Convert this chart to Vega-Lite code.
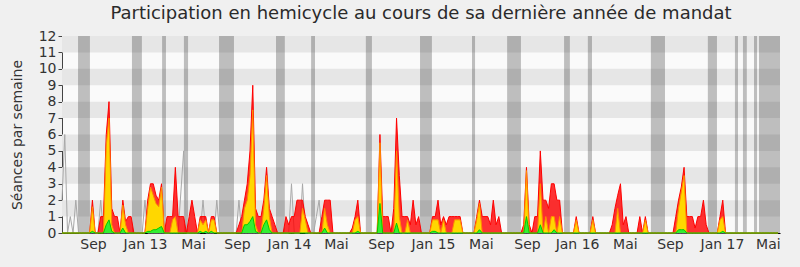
{
"$schema":"https://vega.github.io/schema/vega-lite/v6.json",
"width":718,"height":197,
"autosize":{"type":"none"},
"padding":{"left":62,"top":36,"right":20,"bottom":34},
"background":"#f0f0f0",
"title":{"text":"Participation en hemicycle au cours de sa dernière année de mandat","font":"DejaVu Sans","fontSize":18,"fontWeight":"normal","color":"#2a2a2a","anchor":"middle","offset":6},
"config":{"view":{"fill":"#fafafa","stroke":null},"font":"DejaVu Sans",
 "axisY":{"grid":false,"tickSize":4,"tickColor":"#444444","domain":true,"domainColor":"#444444","labelFontSize":14,"labelColor":"#333333","labelPadding":2,"titleFontSize":14,"titleFontWeight":"normal","titleColor":"#333333","titlePadding":14,"labelFont":"DejaVu Sans","titleFont":"DejaVu Sans","zindex":1},
 "axisX":{"grid":false,"ticks":false,"domainColor":"#000000","domainWidth":1,"labelFontSize":14,"labelColor":"#333333","labelPadding":4,"labelFont":"DejaVu Sans","zindex":1}},
"datasets":{
"bandes":[{"bas":1,"haut":2},{"bas":3,"haut":4},{"bas":5,"haut":6},{"bas":7,"haut":8},{"bas":9,"haut":10},{"bas":11,"haut":12}],
"vacances":[{"debut":5.8,"fin":10.1},{"debut":25.3,"fin":28.9},{"debut":36.2,"fin":37.6},{"debut":44.1,"fin":45.6},{"debut":56.8,"fin":62.2},{"debut":77.4,"fin":80.6},{"debut":90.1,"fin":91.5},{"debut":109.9,"fin":112.1},{"debut":129.5,"fin":133.8},{"debut":148.3,"fin":149.4},{"debut":161.0,"fin":166.0},{"debut":181.6,"fin":183.7},{"debut":190.2,"fin":191.7},{"debut":213.0,"fin":218.1},{"debut":233.6,"fin":236.9},{"debut":243.4,"fin":244.5},{"debut":246.3,"fin":247.7},{"debut":250.3,"fin":251.4},{"debut":252.1,"fin":259.7}],
"semaines":[
{"s":0,"pres":0,"inter":0,"quest":0,"med":2},
{"s":1,"pres":0,"inter":0,"quest":0,"med":6},
{"s":2,"pres":0,"inter":0,"quest":0,"med":0},
{"s":3,"pres":0,"inter":0,"quest":0,"med":1},
{"s":4,"pres":0,"inter":0,"quest":0,"med":0},
{"s":5,"pres":0,"inter":0,"quest":0,"med":2},
{"s":6,"pres":0,"inter":0,"quest":0,"med":0},
{"s":7,"pres":0,"inter":0,"quest":0,"med":0},
{"s":8,"pres":0,"inter":0,"quest":0,"med":0},
{"s":9,"pres":0,"inter":0,"quest":0,"med":0},
{"s":10,"pres":0,"inter":0,"quest":0,"med":0},
{"s":11,"pres":2,"inter":1.6,"quest":0.1,"med":0},
{"s":12,"pres":0,"inter":0,"quest":0,"med":0},
{"s":13,"pres":0,"inter":0,"quest":0,"med":0},
{"s":14,"pres":1,"inter":0,"quest":0,"med":2},
{"s":15,"pres":1,"inter":0,"quest":0,"med":0},
{"s":16,"pres":6,"inter":5.3,"quest":0.5,"med":0},
{"s":17,"pres":8,"inter":7,"quest":0.8,"med":0},
{"s":18,"pres":1.5,"inter":0.5,"quest":0.1,"med":0},
{"s":19,"pres":1,"inter":0,"quest":0,"med":0},
{"s":20,"pres":1,"inter":0,"quest":0,"med":0},
{"s":21,"pres":0,"inter":0,"quest":0,"med":0},
{"s":22,"pres":2,"inter":1.7,"quest":0.3,"med":0},
{"s":23,"pres":0.7,"inter":0.5,"quest":0,"med":0},
{"s":24,"pres":1,"inter":0,"quest":0,"med":0},
{"s":25,"pres":1,"inter":0,"quest":0,"med":0},
{"s":26,"pres":0,"inter":0,"quest":0,"med":0},
{"s":27,"pres":0,"inter":0,"quest":0,"med":0},
{"s":28,"pres":0,"inter":0,"quest":0,"med":0},
{"s":29,"pres":0,"inter":0,"quest":0,"med":0},
{"s":30,"pres":0,"inter":0,"quest":0,"med":2},
{"s":31,"pres":2,"inter":1.5,"quest":0.1,"med":0},
{"s":32,"pres":3,"inter":2.8,"quest":0.1,"med":0},
{"s":33,"pres":3,"inter":2.3,"quest":0.2,"med":0},
{"s":34,"pres":2.3,"inter":1.8,"quest":0.2,"med":0},
{"s":35,"pres":2,"inter":1.6,"quest":0.3,"med":0},
{"s":36,"pres":3,"inter":2.8,"quest":0.4,"med":0},
{"s":37,"pres":0,"inter":0,"quest":0,"med":0},
{"s":38,"pres":1,"inter":0,"quest":0,"med":0},
{"s":39,"pres":1,"inter":0,"quest":0,"med":0},
{"s":40,"pres":1,"inter":0.8,"quest":0,"med":0},
{"s":41,"pres":4,"inter":1,"quest":0,"med":0},
{"s":42,"pres":1,"inter":0,"quest":0,"med":0},
{"s":43,"pres":1,"inter":0,"quest":0,"med":2.5},
{"s":44,"pres":1,"inter":0,"quest":0,"med":5},
{"s":45,"pres":0,"inter":0,"quest":0,"med":0},
{"s":46,"pres":1,"inter":0,"quest":0,"med":0},
{"s":47,"pres":2,"inter":0,"quest":0,"med":0},
{"s":48,"pres":1,"inter":0,"quest":0,"med":0},
{"s":49,"pres":0,"inter":0,"quest":0,"med":0},
{"s":50,"pres":1,"inter":0.8,"quest":0.1,"med":0},
{"s":51,"pres":1,"inter":0.5,"quest":0,"med":2},
{"s":52,"pres":1,"inter":0.8,"quest":0.1,"med":0},
{"s":53,"pres":0,"inter":0,"quest":0,"med":0},
{"s":54,"pres":1,"inter":0.8,"quest":0.1,"med":0},
{"s":55,"pres":1,"inter":0.8,"quest":0,"med":0},
{"s":56,"pres":0,"inter":0,"quest":0,"med":2},
{"s":57,"pres":0,"inter":0,"quest":0,"med":0},
{"s":58,"pres":0,"inter":0,"quest":0,"med":0},
{"s":59,"pres":0,"inter":0,"quest":0,"med":0},
{"s":60,"pres":0,"inter":0,"quest":0,"med":0},
{"s":61,"pres":0,"inter":0,"quest":0,"med":0},
{"s":62,"pres":0,"inter":0,"quest":0,"med":0},
{"s":63,"pres":0,"inter":0,"quest":0,"med":0},
{"s":64,"pres":0.5,"inter":0,"quest":0,"med":2},
{"s":65,"pres":1,"inter":0,"quest":0,"med":0},
{"s":66,"pres":2,"inter":1.5,"quest":0.5,"med":0},
{"s":67,"pres":3,"inter":2,"quest":0.5,"med":0},
{"s":68,"pres":5,"inter":3.5,"quest":0.7,"med":0},
{"s":69,"pres":9,"inter":7.5,"quest":1,"med":0},
{"s":70,"pres":1.5,"inter":0.5,"quest":0.1,"med":0},
{"s":71,"pres":1,"inter":0,"quest":0,"med":0},
{"s":72,"pres":1,"inter":0,"quest":0,"med":0},
{"s":73,"pres":2,"inter":1.5,"quest":0.5,"med":0},
{"s":74,"pres":4,"inter":3.5,"quest":0.8,"med":0},
{"s":75,"pres":1.5,"inter":1,"quest":0.2,"med":0},
{"s":76,"pres":1,"inter":0,"quest":0,"med":0},
{"s":77,"pres":0.5,"inter":0,"quest":0,"med":0},
{"s":78,"pres":0,"inter":0,"quest":0,"med":0},
{"s":79,"pres":0,"inter":0,"quest":0,"med":0},
{"s":80,"pres":0,"inter":0,"quest":0,"med":0},
{"s":81,"pres":1,"inter":0,"quest":0,"med":0},
{"s":82,"pres":0.5,"inter":0,"quest":0,"med":0},
{"s":83,"pres":1,"inter":0,"quest":0,"med":3},
{"s":84,"pres":1,"inter":0,"quest":0,"med":0},
{"s":85,"pres":2,"inter":0,"quest":0,"med":0},
{"s":86,"pres":2,"inter":0,"quest":0,"med":0},
{"s":87,"pres":2,"inter":1.5,"quest":0,"med":3},
{"s":88,"pres":1,"inter":0.8,"quest":0,"med":0},
{"s":89,"pres":0.5,"inter":0,"quest":0,"med":0},
{"s":90,"pres":0,"inter":0,"quest":0,"med":0},
{"s":91,"pres":0,"inter":0,"quest":0,"med":0},
{"s":92,"pres":0,"inter":0,"quest":0,"med":1},
{"s":93,"pres":0,"inter":0,"quest":0,"med":2},
{"s":94,"pres":1,"inter":0,"quest":0,"med":0},
{"s":95,"pres":2,"inter":1.5,"quest":0.3,"med":0},
{"s":96,"pres":2,"inter":0.5,"quest":0,"med":0},
{"s":97,"pres":2,"inter":0,"quest":0,"med":0},
{"s":98,"pres":0,"inter":0,"quest":0,"med":0},
{"s":99,"pres":0,"inter":0,"quest":0,"med":0},
{"s":100,"pres":0,"inter":0,"quest":0,"med":0},
{"s":101,"pres":0,"inter":0,"quest":0,"med":0},
{"s":102,"pres":0,"inter":0,"quest":0,"med":0},
{"s":103,"pres":0,"inter":0,"quest":0,"med":0},
{"s":104,"pres":0,"inter":0,"quest":0,"med":0},
{"s":105,"pres":0.3,"inter":0,"quest":0,"med":0},
{"s":106,"pres":1,"inter":0.8,"quest":0,"med":0},
{"s":107,"pres":2,"inter":1,"quest":0.1,"med":0},
{"s":108,"pres":0,"inter":0,"quest":0,"med":0},
{"s":109,"pres":0,"inter":0,"quest":0,"med":0},
{"s":110,"pres":0,"inter":0,"quest":0,"med":0},
{"s":111,"pres":0,"inter":0,"quest":0,"med":0},
{"s":112,"pres":0,"inter":0,"quest":0,"med":0},
{"s":113,"pres":0,"inter":0,"quest":0,"med":0},
{"s":114,"pres":0,"inter":0,"quest":0,"med":0},
{"s":115,"pres":6,"inter":5.5,"quest":1.8,"med":0},
{"s":116,"pres":1,"inter":0,"quest":0,"med":0},
{"s":117,"pres":1,"inter":0,"quest":0,"med":0},
{"s":118,"pres":1,"inter":0,"quest":0,"med":0},
{"s":119,"pres":0,"inter":0,"quest":0,"med":0},
{"s":120,"pres":1.5,"inter":0,"quest":0,"med":0},
{"s":121,"pres":7,"inter":5,"quest":0.6,"med":0},
{"s":122,"pres":3.5,"inter":1,"quest":0,"med":0},
{"s":123,"pres":1,"inter":0,"quest":0,"med":0},
{"s":124,"pres":1,"inter":0,"quest":0,"med":0},
{"s":125,"pres":1,"inter":0.8,"quest":0,"med":0},
{"s":126,"pres":0.5,"inter":0,"quest":0,"med":0},
{"s":127,"pres":2,"inter":0,"quest":0,"med":0},
{"s":128,"pres":0.5,"inter":0,"quest":0,"med":0},
{"s":129,"pres":1,"inter":0,"quest":0,"med":0},
{"s":130,"pres":0,"inter":0,"quest":0,"med":0},
{"s":131,"pres":0,"inter":0,"quest":0,"med":0},
{"s":132,"pres":0,"inter":0,"quest":0,"med":0},
{"s":133,"pres":0,"inter":0,"quest":0,"med":0},
{"s":134,"pres":1,"inter":0.8,"quest":0.1,"med":0},
{"s":135,"pres":1,"inter":0.8,"quest":0.1,"med":0},
{"s":136,"pres":2,"inter":0.8,"quest":0,"med":0},
{"s":137,"pres":0.5,"inter":0,"quest":0,"med":0},
{"s":138,"pres":1,"inter":0.8,"quest":0,"med":0},
{"s":139,"pres":0.5,"inter":0,"quest":0,"med":0},
{"s":140,"pres":1,"inter":0,"quest":0,"med":0},
{"s":141,"pres":1,"inter":0,"quest":0,"med":0},
{"s":142,"pres":1,"inter":0.8,"quest":0,"med":0},
{"s":143,"pres":1,"inter":0.8,"quest":0,"med":0},
{"s":144,"pres":1,"inter":0.8,"quest":0,"med":0},
{"s":145,"pres":0,"inter":0,"quest":0,"med":0},
{"s":146,"pres":0,"inter":0,"quest":0,"med":0},
{"s":147,"pres":0,"inter":0,"quest":0,"med":0},
{"s":148,"pres":0,"inter":0,"quest":0,"med":0},
{"s":149,"pres":0,"inter":0,"quest":0,"med":0},
{"s":150,"pres":1,"inter":0.8,"quest":0,"med":0},
{"s":151,"pres":2,"inter":1.8,"quest":0.2,"med":0},
{"s":152,"pres":1,"inter":0,"quest":0,"med":0},
{"s":153,"pres":1,"inter":0,"quest":0,"med":0},
{"s":154,"pres":1,"inter":0,"quest":0,"med":0},
{"s":155,"pres":0.5,"inter":0,"quest":0,"med":0},
{"s":156,"pres":2,"inter":0,"quest":0,"med":0},
{"s":157,"pres":0.5,"inter":0,"quest":0,"med":0},
{"s":158,"pres":1,"inter":0,"quest":0,"med":0},
{"s":159,"pres":0,"inter":0,"quest":0,"med":0},
{"s":160,"pres":0,"inter":0,"quest":0,"med":0},
{"s":161,"pres":0,"inter":0,"quest":0,"med":0},
{"s":162,"pres":0,"inter":0,"quest":0,"med":0},
{"s":163,"pres":0,"inter":0,"quest":0,"med":0},
{"s":164,"pres":0,"inter":0,"quest":0,"med":0},
{"s":165,"pres":0,"inter":0,"quest":0,"med":0},
{"s":166,"pres":0,"inter":0,"quest":0,"med":0},
{"s":167,"pres":0.5,"inter":0,"quest":0,"med":0},
{"s":168,"pres":4,"inter":3.8,"quest":1,"med":0},
{"s":169,"pres":0.5,"inter":0,"quest":0,"med":0},
{"s":170,"pres":0,"inter":0,"quest":0,"med":0},
{"s":171,"pres":1,"inter":0,"quest":0,"med":0},
{"s":172,"pres":1,"inter":0,"quest":0,"med":0},
{"s":173,"pres":5,"inter":3,"quest":0.5,"med":0},
{"s":174,"pres":2,"inter":0,"quest":0,"med":0},
{"s":175,"pres":2,"inter":1,"quest":0,"med":0},
{"s":176,"pres":1.5,"inter":0,"quest":0,"med":0},
{"s":177,"pres":3,"inter":1,"quest":0,"med":0},
{"s":178,"pres":3,"inter":1,"quest":0.2,"med":0},
{"s":179,"pres":2,"inter":0,"quest":0,"med":0},
{"s":180,"pres":2,"inter":1,"quest":0,"med":0},
{"s":181,"pres":0,"inter":0,"quest":0,"med":0},
{"s":182,"pres":0,"inter":0,"quest":0,"med":0},
{"s":183,"pres":0,"inter":0,"quest":0,"med":0},
{"s":184,"pres":0,"inter":0,"quest":0,"med":0},
{"s":185,"pres":0,"inter":0,"quest":0,"med":0},
{"s":186,"pres":1,"inter":0.8,"quest":0,"med":0},
{"s":187,"pres":0,"inter":0,"quest":0,"med":0},
{"s":188,"pres":0,"inter":0,"quest":0,"med":0},
{"s":189,"pres":0,"inter":0,"quest":0,"med":0},
{"s":190,"pres":0,"inter":0,"quest":0,"med":0},
{"s":191,"pres":0,"inter":0,"quest":0,"med":0},
{"s":192,"pres":1,"inter":0.8,"quest":0,"med":0},
{"s":193,"pres":0,"inter":0,"quest":0,"med":0},
{"s":194,"pres":0,"inter":0,"quest":0,"med":0},
{"s":195,"pres":0,"inter":0,"quest":0,"med":0},
{"s":196,"pres":0,"inter":0,"quest":0,"med":0},
{"s":197,"pres":0,"inter":0,"quest":0,"med":0},
{"s":198,"pres":0,"inter":0,"quest":0,"med":0},
{"s":199,"pres":0.5,"inter":0,"quest":0,"med":0},
{"s":200,"pres":1.5,"inter":0,"quest":0,"med":0},
{"s":201,"pres":2.3,"inter":1.5,"quest":0,"med":0},
{"s":202,"pres":3,"inter":0,"quest":0,"med":0},
{"s":203,"pres":0.5,"inter":0,"quest":0,"med":0},
{"s":204,"pres":1,"inter":0,"quest":0,"med":0},
{"s":205,"pres":0,"inter":0,"quest":0,"med":0},
{"s":206,"pres":0,"inter":0,"quest":0,"med":0},
{"s":207,"pres":0,"inter":0,"quest":0,"med":0},
{"s":208,"pres":0,"inter":0,"quest":0,"med":0},
{"s":209,"pres":1,"inter":0,"quest":0,"med":0},
{"s":210,"pres":0,"inter":0,"quest":0,"med":0},
{"s":211,"pres":1,"inter":0.8,"quest":0,"med":0},
{"s":212,"pres":0,"inter":0,"quest":0,"med":0},
{"s":213,"pres":0,"inter":0,"quest":0,"med":0},
{"s":214,"pres":0,"inter":0,"quest":0,"med":0},
{"s":215,"pres":0,"inter":0,"quest":0,"med":0},
{"s":216,"pres":0,"inter":0,"quest":0,"med":0},
{"s":217,"pres":0,"inter":0,"quest":0,"med":0},
{"s":218,"pres":0,"inter":0,"quest":0,"med":0},
{"s":219,"pres":0,"inter":0,"quest":0,"med":0},
{"s":220,"pres":0,"inter":0,"quest":0,"med":0},
{"s":221,"pres":0,"inter":0,"quest":0,"med":0},
{"s":222,"pres":1,"inter":0,"quest":0,"med":0},
{"s":223,"pres":2,"inter":1.5,"quest":0.2,"med":0},
{"s":224,"pres":2.8,"inter":2.5,"quest":0.2,"med":0},
{"s":225,"pres":4,"inter":3.5,"quest":0.2,"med":0},
{"s":226,"pres":1,"inter":0,"quest":0,"med":0},
{"s":227,"pres":1,"inter":0,"quest":0,"med":0},
{"s":228,"pres":1,"inter":0,"quest":0,"med":0},
{"s":229,"pres":0.3,"inter":0,"quest":0,"med":0},
{"s":230,"pres":1,"inter":0,"quest":0,"med":0},
{"s":231,"pres":1,"inter":0,"quest":0,"med":0},
{"s":232,"pres":2,"inter":0,"quest":0,"med":0},
{"s":233,"pres":0.5,"inter":0,"quest":0,"med":0},
{"s":234,"pres":0,"inter":0,"quest":0,"med":0},
{"s":235,"pres":0,"inter":0,"quest":0,"med":0},
{"s":236,"pres":0,"inter":0,"quest":0,"med":0},
{"s":237,"pres":0,"inter":0,"quest":0,"med":0},
{"s":238,"pres":1,"inter":0.8,"quest":0,"med":0},
{"s":239,"pres":2,"inter":1,"quest":0.1,"med":0},
{"s":240,"pres":0,"inter":0,"quest":0,"med":0},
{"s":241,"pres":0,"inter":0,"quest":0,"med":0},
{"s":242,"pres":0,"inter":0,"quest":0,"med":0},
{"s":243,"pres":0,"inter":0,"quest":0,"med":0},
{"s":244,"pres":0,"inter":0,"quest":0,"med":0},
{"s":245,"pres":0,"inter":0,"quest":0,"med":0},
{"s":246,"pres":0,"inter":0,"quest":0,"med":0},
{"s":247,"pres":0,"inter":0,"quest":0,"med":0},
{"s":248,"pres":0,"inter":0,"quest":0,"med":0},
{"s":249,"pres":0,"inter":0,"quest":0,"med":0},
{"s":250,"pres":0,"inter":0,"quest":0,"med":0},
{"s":251,"pres":0,"inter":0,"quest":0,"med":0},
{"s":252,"pres":0,"inter":0,"quest":0,"med":0},
{"s":253,"pres":0,"inter":0,"quest":0,"med":0},
{"s":254,"pres":0,"inter":0,"quest":0,"med":0},
{"s":255,"pres":0,"inter":0,"quest":0,"med":0},
{"s":256,"pres":0,"inter":0,"quest":0,"med":0},
{"s":257,"pres":0,"inter":0,"quest":0,"med":0},
{"s":258,"pres":0,"inter":0,"quest":0,"med":0},
{"s":259,"pres":0,"inter":0,"quest":0,"med":0}
]},
"layer":[
{"data":{"name":"bandes"},"mark":{"type":"rect","color":"#e6e6e6"},
 "encoding":{"y":{"field":"bas","type":"quantitative","scale":{"domain":[0,12],"nice":false,"zero":true},"title":"Séances par semaine","axis":{"values":[0,1,2,3,4,5,6,7,8,9,10,11,12],"labelOverlap":false}},
  "y2":{"field":"haut"}}},
{"data":{"name":"vacances"},"mark":{"type":"rect","color":"#000000","opacity":0.24},
 "encoding":{"x":{"field":"debut","type":"quantitative","scale":{"domain":[0,259.7],"nice":false,"zero":false},"title":null,
   "axis":{"values":[11.2,30,47.4,63.3,82.1,99.1,115.4,134.2,151.5,168.2,186.3,203.6,219.9,238.7,255.3],"labelOverlap":false,"labelExpr":"round((datum.value-11.2)/17.4)%3==0 ? 'Sep' : (round((datum.value-11.2)/17.4)%3==1 ? 'Jan ' + (13+floor(round((datum.value-11.2)/17.4)/3)) : 'Mai')"}},
  "x2":{"field":"fin"}}},
{"data":{"name":"semaines"},"mark":{"type":"line","color":"#a8a8a8","strokeWidth":1},
 "encoding":{"x":{"field":"s","type":"quantitative","title":null,"axis":{"values":[11.2,30,47.4,63.3,82.1,99.1,115.4,134.2,151.5,168.2,186.3,203.6,219.9,238.7,255.3],"labelOverlap":false,"labelExpr":"round((datum.value-11.2)/17.4)%3==0 ? 'Sep' : (round((datum.value-11.2)/17.4)%3==1 ? 'Jan ' + (13+floor(round((datum.value-11.2)/17.4)/3)) : 'Mai')"}},
  "y":{"field":"med","type":"quantitative","title":"Séances par semaine","axis":{"values":[0,1,2,3,4,5,6,7,8,9,10,11,12],"labelOverlap":false}}}},
{"data":{"name":"semaines"},"mark":{"type":"area","color":"#ff0000","opacity":0.8,"line":{"color":"#ff0000","strokeWidth":1}},
 "encoding":{"x":{"field":"s","type":"quantitative","title":null,"axis":{"values":[11.2,30,47.4,63.3,82.1,99.1,115.4,134.2,151.5,168.2,186.3,203.6,219.9,238.7,255.3],"labelOverlap":false,"labelExpr":"round((datum.value-11.2)/17.4)%3==0 ? 'Sep' : (round((datum.value-11.2)/17.4)%3==1 ? 'Jan ' + (13+floor(round((datum.value-11.2)/17.4)/3)) : 'Mai')"}},
  "y":{"field":"pres","type":"quantitative","title":"Séances par semaine","axis":{"values":[0,1,2,3,4,5,6,7,8,9,10,11,12],"labelOverlap":false}}}},
{"data":{"name":"semaines"},"mark":{"type":"area","color":"#ffd700","opacity":1,"line":{"color":"#ff8c00","strokeWidth":1}},
 "encoding":{"x":{"field":"s","type":"quantitative","title":null,"axis":{"values":[11.2,30,47.4,63.3,82.1,99.1,115.4,134.2,151.5,168.2,186.3,203.6,219.9,238.7,255.3],"labelOverlap":false,"labelExpr":"round((datum.value-11.2)/17.4)%3==0 ? 'Sep' : (round((datum.value-11.2)/17.4)%3==1 ? 'Jan ' + (13+floor(round((datum.value-11.2)/17.4)/3)) : 'Mai')"}},
  "y":{"field":"inter","type":"quantitative","title":"Séances par semaine","axis":{"values":[0,1,2,3,4,5,6,7,8,9,10,11,12],"labelOverlap":false}}}},
{"data":{"name":"semaines"},"mark":{"type":"area","color":"#33ee33","opacity":1,"line":{"color":"#00cc00","strokeWidth":1}},
 "encoding":{"x":{"field":"s","type":"quantitative","title":null,"axis":{"values":[11.2,30,47.4,63.3,82.1,99.1,115.4,134.2,151.5,168.2,186.3,203.6,219.9,238.7,255.3],"labelOverlap":false,"labelExpr":"round((datum.value-11.2)/17.4)%3==0 ? 'Sep' : (round((datum.value-11.2)/17.4)%3==1 ? 'Jan ' + (13+floor(round((datum.value-11.2)/17.4)/3)) : 'Mai')"}},
  "y":{"field":"quest","type":"quantitative","title":"Séances par semaine","axis":{"values":[0,1,2,3,4,5,6,7,8,9,10,11,12],"labelOverlap":false}}}},
{"mark":{"type":"rule","color":"#000000","strokeDash":[1,2],"strokeWidth":1},
 "encoding":{"y":{"datum":12,"type":"quantitative","title":"Séances par semaine","axis":{"values":[0,1,2,3,4,5,6,7,8,9,10,11,12],"labelOverlap":false}}}},
{"mark":{"type":"rule","color":"#111111","strokeWidth":1.5},
 "encoding":{"y":{"datum":0,"type":"quantitative","title":"Séances par semaine","axis":{"values":[0,1,2,3,4,5,6,7,8,9,10,11,12],"labelOverlap":false}}}}
]
}
